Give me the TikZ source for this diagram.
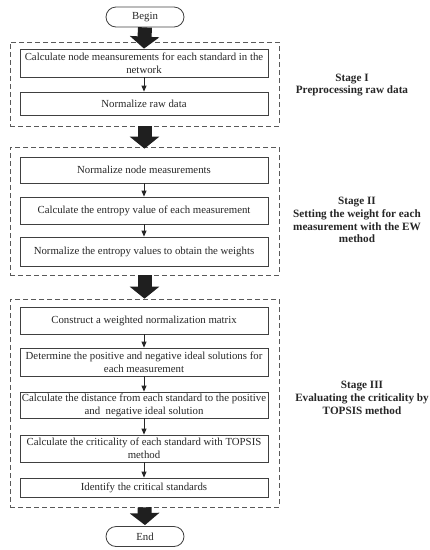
\documentclass[tikz,border=0pt]{standalone}
\usepackage{fontspec}
\setmainfont{Liberation Serif}
\usetikzlibrary{arrows.meta}
\begin{document}
\begin{tikzpicture}[x=1pt,y=-1pt,
  every node/.style={font=\fontsize{10.8}{13}\selectfont, text=black!85},
  procbox/.style={draw=black!75, line width=0.8pt, minimum width=248pt, inner sep=0pt, align=center},
  termbox/.style={draw=black!75, line width=0.8pt, rounded corners=10pt, minimum width=78pt, minimum height=20pt, inner sep=0pt},
  stagebox/.style={draw=black!65, line width=0.7pt, dash pattern=on 5pt off 3pt, minimum width=269pt, inner sep=0pt},
  stagelabel/.style={font=\fontsize{11.2}{12.8}\selectfont\bfseries, align=center},
  bigarrow/.style={draw=black!88, line width=14pt, -{Triangle[width=29pt,length=12pt]}},
  smallarrow/.style={draw=black!85, line width=0.8pt, -{Triangle[width=5pt,length=6pt]}}]
\useasboundingbox (0,0) rectangle (430,550);

% dashed stage frames
\node[stagebox, minimum height=84pt]  (s1) at (144.5,84) {};
\node[stagebox, minimum height=128pt] (s2) at (144.5,211) {};
\node[stagebox, minimum height=208pt] (s3) at (144.5,403) {};

% terminals
\node[termbox] (begin) at (145,17) {Begin};
\node[termbox] (end) at (145,536.5) {End};

% stage I
\node[procbox, minimum height=28pt] (a) at (144,63) {Calculate node meansurements for each standard in the\\network};
\node[procbox, minimum height=23pt] (b) at (144,103.5) {Normalize raw data};

% stage II
\node[procbox, minimum height=26pt] (c) at (144,170) {Normalize node measurements};
\node[procbox, minimum height=27pt] (d) at (144,210.5) {Calculate the entropy value of each measurement};
\node[procbox, minimum height=29pt] (e) at (144,251.5) {Normalize the entropy values to obtain the weights};

% stage III
\node[procbox, minimum height=27pt] (f) at (144,320.5) {Construct a weighted normalization matrix};
\node[procbox, minimum height=28pt] (g) at (144,362) {Determine the positive and negative ideal solutions for\\each measurement};
\node[procbox, minimum height=26pt] (h) at (144,405) {Calculate the distance from each standard to the positive\\and~ negative ideal solution};
\node[procbox, minimum height=27pt] (i) at (144,448.5) {Calculate the criticality of each standard with TOPSIS\\method};
\node[procbox, minimum height=19pt] (j) at (144,487.5) {Identify the critical standards};

% stage labels
\node[stagelabel] (l1) at (352,85) {Stage I\\Preprocessing raw data};
\node[stagelabel] (l2) at (357,220) {Stage II\\Setting the weight for each\\measurement with the EW\\method};
\node[stagelabel] (l3) at (362,398) {Stage III\\Evaluating the criticality by\\TOPSIS method};

% big arrows
\draw[bigarrow] (begin.south) -- (a.north);
\draw[bigarrow, shorten >=-2pt] (s1.south) -- (s2.north);
\draw[bigarrow] (s2.south) -- (s3.north);
\draw[bigarrow, shorten >=1pt] (s3.south) -- (end.north);

% small arrows
\draw[smallarrow] (a) -- (b);
\draw[smallarrow] (c) -- (d);
\draw[smallarrow] (d) -- (e);
\draw[smallarrow] (f) -- (g);
\draw[smallarrow] (g) -- (h);
\draw[smallarrow] (h) -- (i);
\draw[smallarrow] (i) -- (j);
\end{tikzpicture}
\end{document}
